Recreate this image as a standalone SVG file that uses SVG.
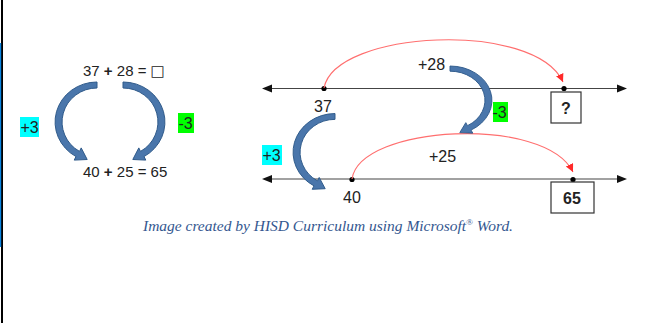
<svg xmlns="http://www.w3.org/2000/svg" width="656" height="323" viewBox="0 0 656 323">
<style>
.t{font-family:"Liberation Sans",Arial,sans-serif;fill:#222}
.eq{font-size:15px}
.lb{font-size:16px}
.bd{font-weight:bold}
.nl{stroke:#444;stroke-width:1.2;fill:none}
.arc{stroke:#ff6f6f;stroke-width:1.1;fill:none}
.blue{fill:#4a76ab;stroke:#2f5a8a;stroke-width:1}
.box{fill:#fff;stroke:#333;stroke-width:1.2}
</style>
<defs>
<path id="carrow" d="M97,82 A42,40 0 0 0 76,156.6 L74.2,160.1 L87.2,159.5 L81.2,147.9 L79.5,151.4 A35,34 0 0 1 97,88 Z"/>
<marker id="rh" markerUnits="userSpaceOnUse" markerWidth="10" markerHeight="10" refX="8" refY="4" orient="auto">
<path d="M0,0 L8,4 L0,8 Z" fill="#ff2a2a"/>
</marker>
</defs>
<rect x="1" y="0" width="2" height="323" fill="#000"/>
<rect x="0" y="43" width="1.2" height="204" fill="#0a84e0"/>

<g id="left-equation-top"><text class="t eq" x="83" y="76">37 <tspan class="bd">+</tspan> 28 = <tspan style="font-family:'DejaVu Sans',sans-serif">□</tspan></text></g>
<g id="left-equation-bottom"><text class="t eq" x="83" y="177">40 <tspan class="bd">+</tspan> 25 = 65</text></g>
<g id="left-plus3"><rect x="20" y="117" width="19" height="20" fill="#00ffff"/><text class="t lb" x="20.5" y="133">+3</text></g>
<g id="left-minus3"><rect x="178" y="113" width="16" height="20" fill="#00ff00"/><text class="t lb" x="178.5" y="129">-3</text></g>

<g id="number-line-top">
<line class="nl" x1="268" y1="88.5" x2="622" y2="88.5"/>
<path d="M262,88.5 L272,84.5 L272,92.5 Z" fill="#111"/>
<path d="M627,88.5 L617,84.5 L617,92.5 Z" fill="#111"/>
<circle cx="324" cy="88.5" r="2.6" fill="#000"/>
<circle cx="564" cy="88.5" r="2.6" fill="#000"/>
</g>
<g id="number-line-bottom">
<line class="nl" x1="268" y1="179" x2="622" y2="179"/>
<path d="M262,179 L272,175 L272,183 Z" fill="#111"/>
<path d="M627,179 L617,175 L617,183 Z" fill="#111"/>
<circle cx="352" cy="179.5" r="2.6" fill="#000"/>
<circle cx="573" cy="179.5" r="2.6" fill="#000"/>
</g>

<g id="connectors">
<path class="arc" d="M324,88 C335,30 535,20 563,82" marker-end="url(#rh)"/>
<path class="arc" d="M352,179 C360,125 545,115 573,172" marker-end="url(#rh)"/>
<use href="#carrow" class="blue"/>
<use href="#carrow" class="blue" transform="matrix(-1,0,0,1,220,0)"/>
<use href="#carrow" class="blue" transform="translate(238,34) scale(1,0.97)"/>
<use href="#carrow" class="blue" transform="matrix(-1,0,0,0.859,547,-4.4)"/>
</g>

<g id="label-37"><text class="t lb" x="314" y="112">37</text></g>
<g id="label-plus28"><text class="t lb" x="418" y="70">+28</text></g>
<g id="label-40"><text class="t lb" x="343" y="203">40</text></g>
<g id="label-plus25"><text class="t lb" x="429" y="162">+25</text></g>
<g id="box-question"><rect class="box" x="551" y="92" width="30" height="31"/><text class="t lb bd" x="566" y="113.5" text-anchor="middle">?</text></g>
<g id="box-65"><rect class="box" x="551" y="182" width="43" height="31"/><text class="t lb bd" x="572" y="204" text-anchor="middle">65</text></g>
<g id="right-plus3"><rect x="262" y="145" width="20" height="20" fill="#00ffff"/><text class="t lb" x="262.5" y="161">+3</text></g>
<g id="right-minus3"><rect x="493" y="102" width="15" height="20" fill="#00ff00"/><text class="t lb" x="492.5" y="118">-3</text></g>

<g id="caption"><text x="143" y="231" textLength="370" lengthAdjust="spacingAndGlyphs" style="font-family:'Liberation Serif','Times New Roman',serif;font-style:italic;font-size:15.5px;fill:#34578f">Image created by HISD Curriculum using Microsoft<tspan style="font-size:9px" dy="-6">®</tspan><tspan dy="6"> Word.</tspan></text></g>
</svg>
